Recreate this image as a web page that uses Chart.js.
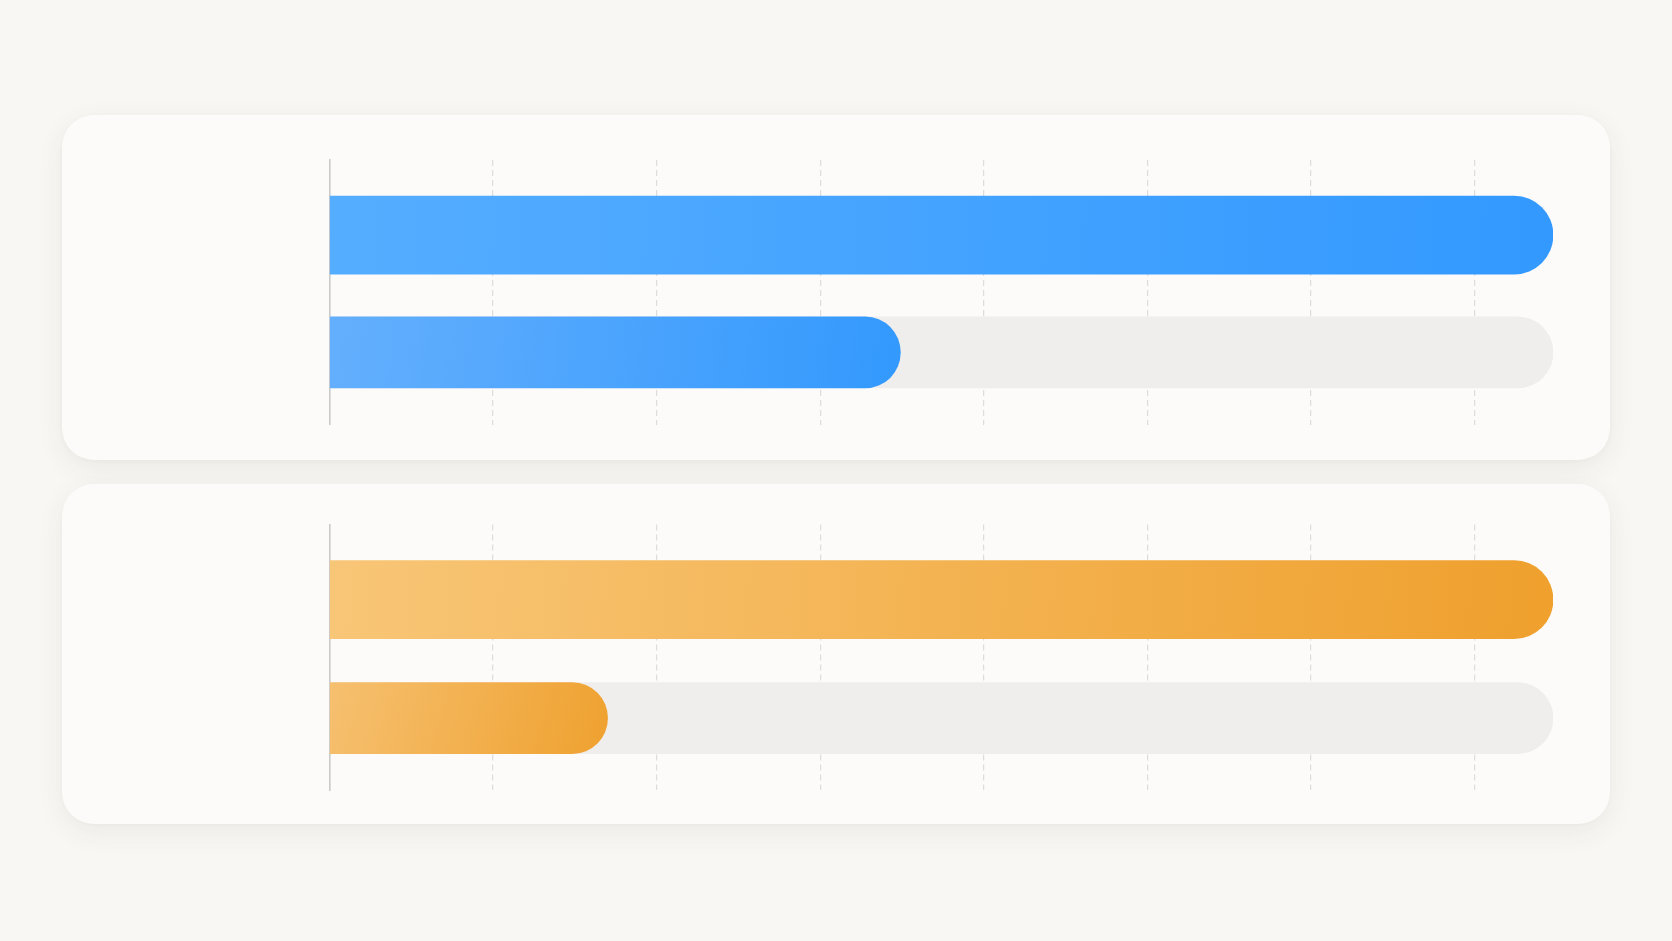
<!DOCTYPE html>
<html>
<head>
<meta charset="utf-8">
<script src="https://cdn.jsdelivr.net/npm/chart.js@4.4.1/dist/chart.umd.min.js"></script>
<style>
  html, body { margin:0; padding:0; background:#f8f7f4; width:1672px; height:941px; overflow:hidden; font-family:"Noto Sans", sans-serif; }
  .card { position:absolute; left:62px; width:1548px; background:#fcfbf9; border-radius:32px;
          box-shadow:0 8px 28px rgba(60,50,30,0.07), 0 1px 4px rgba(60,50,30,0.03); }
  .card canvas { position:absolute; left:0; top:0; }
</style>
</head>
<body>
<div class="card" id="card1" style="top:115px;height:345px;"><canvas id="c1"></canvas></div>
<div class="card" id="card2" style="top:484px;height:340px;"><canvas id="c2"></canvas></div>
<script>
// ---- data ----
const categories = ['Total', 'Completed'];      // row names (not shown in the picture)
const blueValues = [7.48, 3.49];
const orangeValues = [7.48, 1.7];
const trackValue = 7.48;                         // grey track behind the second row
const axisMax = 7.48;
const tickStep = 1;

function gradientFill(stops, fallback) {
  return function (ctx) {
    const chart = ctx.chart;
    if (!chart.chartArea || !ctx.parsed) return fallback;
    const xs = chart.scales.x, ys = chart.scales.y;
    const x0 = xs.getPixelForValue(0);
    const x1 = xs.getPixelForValue(ctx.parsed.x);
    const yc = ys.getPixelForValue(ctx.parsed.y);
    if (!isFinite(x0) || !isFinite(x1) || x1 <= x0) return fallback;
    const g = chart.ctx.createLinearGradient(x0, yc - 40, x1, yc + 40);
    g.addColorStop(0, stops[0]);
    g.addColorStop(1, stops[1]);
    return g;
  };
}

function makeChart(canvasId, values, topStops, progStops, pad, yRange) {
  const el = document.getElementById(canvasId);
  const card = el.parentElement;
  el.width = card.clientWidth; el.height = card.clientHeight;
  el.style.width = card.clientWidth + 'px'; el.style.height = card.clientHeight + 'px';
  return new Chart(el, {
    type: 'bar',
    data: {
      datasets: [
        { label: categories[1], data: [{ x: values[1], y: 1 }], barThickness: 71, grouped: false,
          backgroundColor: gradientFill(progStops, progStops[1]),
          borderRadius: 36, borderSkipped: 'start' },
        { label: 'track', data: [{ x: trackValue, y: 1 }], barThickness: 71, grouped: false,
          backgroundColor: '#efeeec', borderRadius: 36, borderSkipped: 'start' },
        { label: categories[0], data: [{ x: values[0], y: 0 }], barThickness: 78, grouped: false,
          backgroundColor: gradientFill(topStops, topStops[1]),
          borderRadius: 39, borderSkipped: 'start' }
      ]
    },
    options: {
      indexAxis: 'y',
      responsive: false,
      animation: false,
      devicePixelRatio: 1,
      layout: { padding: pad },
      plugins: { legend: { display: false }, tooltip: { enabled: false } },
      scales: {
        x: {
          type: 'linear', min: 0, max: axisMax,
          afterBuildTicks: (s) => { s.ticks = s.ticks.filter(t => t.value < axisMax - 1e-9); },
          ticks: { display: false, stepSize: tickStep },
          grid: { drawTicks: false, lineWidth: 1.2,
                  color: (c) => (c.tick && c.tick.value === 0) ? 'rgba(0,0,0,0)' : '#dddddd' },
          border: { display: false, dash: [6, 4] }
        },
        y: {
          type: 'linear', reverse: true, offset: false, min: yRange[0], max: yRange[1],
          ticks: { display: false },
          grid: { display: false, drawTicks: false },
          border: { display: true, color: '#cacaca', width: 1.6 }
        }
      }
    }
  });
}

makeChart('c1', blueValues, ['#55adff', '#3399ff'], ['#64affd', '#3399fd'],
  { left: 267.5, right: 57, top: 45, bottom: 35.5 }, [-0.64, 1.614]);
makeChart('c2', orangeValues, ['#f8c677', '#efa02d'], ['#f6c070', '#efa12f'],
  { left: 267.5, right: 57, top: 40.5, bottom: 34 }, [-0.635, 1.607]);
</script>
</body>
</html>
